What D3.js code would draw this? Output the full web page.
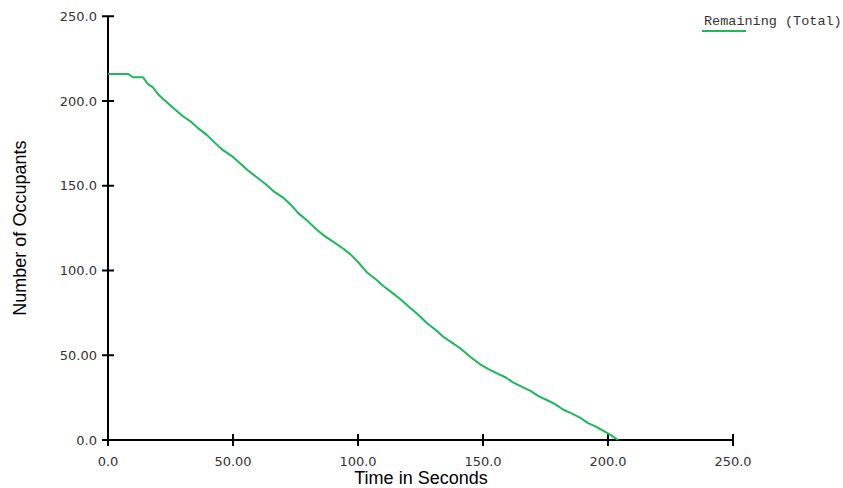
<!DOCTYPE html>
<html>
<head>
<meta charset="utf-8">
<script src="https://cdn.jsdelivr.net/npm/d3@7"></script>
<style>
  html, body { margin: 0; padding: 0; background: #fff; }
  svg { display: block; }
</style>
</head>
<body>
<svg id="chart" width="843" height="488"></svg>
<script>
const times = [0, 8, 10, 14, 16, 18, 20, 23, 26, 30, 33, 36, 39.5, 43, 46, 50, 53, 56, 59.5, 63, 66, 70, 73, 76, 80, 83.5, 87, 90, 94, 97, 100, 103.5, 107, 110, 114, 117, 120, 124, 127.5, 131, 134, 137, 141, 145, 149, 152, 156, 159, 162, 166, 169, 172, 175.5, 179, 182, 185, 189, 192, 195, 198, 201, 204];
const remaining = [216, 216, 214, 214, 210, 208, 204, 200, 196, 191, 188, 184, 180, 175, 171, 167, 163, 159, 155, 151, 147, 143, 139, 134, 129, 124, 120, 117, 113, 109.5, 105, 99, 95, 91, 86.5, 83, 79, 74, 69, 65, 61, 58, 54, 49, 44.5, 42, 39, 37, 34, 31, 29, 26, 23.6, 21, 18, 16, 13, 10, 8, 5.5, 3, 0];
const xTicks = [0, 50, 100, 150, 200, 250];
const xTickLabels = ["0.0", "50.00", "100.0", "150.0", "200.0", "250.0"];
const yTicks = [0, 50, 100, 150, 200, 250];
const yTickLabels = ["0.0", "50.00", "100.0", "150.0", "200.0", "250.0"];
const seriesName = "Remaining (Total)";

const svg = d3.select("#chart");
const x = d3.scaleLinear().domain([0, 250]).range([108, 733]);
const y = d3.scaleLinear().domain([0, 250]).range([440, 16.25]);

const data = times.map((t, i) => ({ t, v: remaining[i] }));

const axisColor = "#000";
const tickFont = "DejaVu Sans, Verdana, sans-serif";
const lineColor = "#1cb85a";

svg.append("line").attr("x1", x(0)).attr("x2", x(0)).attr("y1", y(250)).attr("y2", y(0))
  .attr("stroke", axisColor).attr("stroke-width", 2);
svg.append("line").attr("x1", x(0)).attr("x2", x(250)).attr("y1", y(0)).attr("y2", y(0))
  .attr("stroke", axisColor).attr("stroke-width", 2);

yTicks.forEach((v, i) => {
  svg.append("line").attr("x1", x(0) - 6).attr("x2", x(0) + 6)
    .attr("y1", y(v)).attr("y2", y(v)).attr("stroke", axisColor).attr("stroke-width", 2);
  svg.append("text").attr("x", x(0) - 11).attr("y", y(v)).attr("dy", "0.35em")
    .attr("text-anchor", "end").attr("font-family", tickFont).attr("font-size", 13)
    .attr("fill", "#333").text(yTickLabels[i]);
});
xTicks.forEach((v, i) => {
  svg.append("line").attr("x1", x(v)).attr("x2", x(v))
    .attr("y1", y(0) - 6).attr("y2", y(0) + 6).attr("stroke", axisColor).attr("stroke-width", 2);
  svg.append("text").attr("x", x(v)).attr("y", y(0) + 26)
    .attr("text-anchor", "middle").attr("font-family", tickFont).attr("font-size", 13)
    .attr("fill", "#333").text(xTickLabels[i]);
});

svg.append("text").attr("x", 421).attr("y", 484).attr("text-anchor", "middle")
  .attr("font-family", "Liberation Sans, Arial, sans-serif").attr("font-size", 18)
  .attr("fill", "#000").text("Time in Seconds");
svg.append("text").attr("transform", `translate(26, ${(y(0) + y(250)) / 2}) rotate(-90)`)
  .attr("text-anchor", "middle")
  .attr("font-family", "Liberation Sans, Arial, sans-serif").attr("font-size", 18)
  .attr("fill", "#000").text("Number of Occupants");

const line = d3.line().x(d => x(d.t)).y(d => y(d.v));
svg.append("path").datum(data).attr("d", line)
  .attr("fill", "none").attr("stroke", lineColor).attr("stroke-width", 2)
  .attr("stroke-linejoin", "round");

svg.append("text").attr("x", 704).attr("y", 25)
  .attr("font-family", "Liberation Mono, Courier New, monospace").attr("font-size", 13.5)
  .attr("fill", "#333").text(seriesName);
svg.append("line").attr("x1", 702).attr("x2", 746).attr("y1", 31).attr("y2", 31)
  .attr("stroke", lineColor).attr("stroke-width", 2);
</script>
</body>
</html>
